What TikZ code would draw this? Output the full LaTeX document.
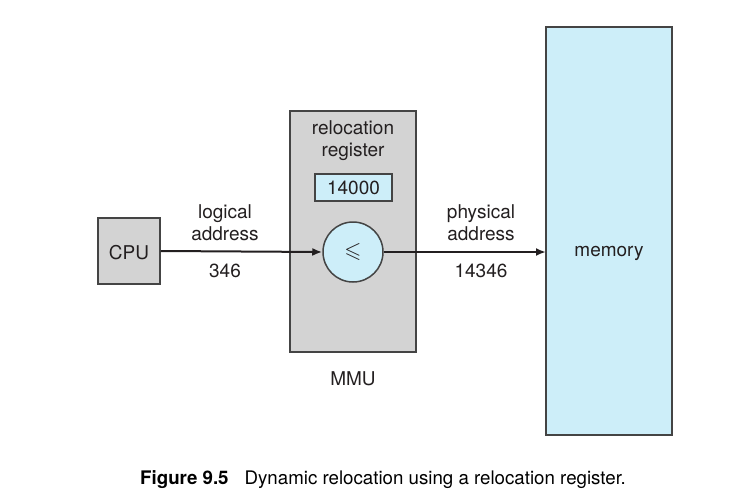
\documentclass[tikz,border=0pt]{standalone}
\usepackage{amssymb}
\usepackage{fontspec}
\setmainfont{TeX Gyre Heros}
\usetikzlibrary{arrows.meta}
\definecolor{boxgray}{HTML}{D3D3D3}
\definecolor{boxblue}{HTML}{CDEEF9}
\definecolor{edgegray}{HTML}{444444}
\definecolor{inkgray}{HTML}{231F20}
\tikzset{
  graybox/.style={draw=edgegray, line width=1.5pt, fill=boxgray},
  bluebox/.style={draw=edgegray, line width=1.5pt, fill=boxblue},
  lbl/.style={text=inkgray, font=\fontsize{19}{22}\selectfont, align=center, inner sep=0pt},
  wire/.style={line width=2pt, draw=inkgray, -{Latex[length=10pt,width=8pt]}}
}
\begin{document}
\begin{tikzpicture}[x=1pt,y=-1pt]
\useasboundingbox (0,0) rectangle (731,503);
% boxes
\node[graybox, minimum width=62pt, minimum height=66pt, inner sep=0pt] (cpu) at (129,251) {};
\node[lbl] at (129,253) {CPU};
\path[graybox] (290,111) rectangle (416,352);
\node[lbl] (relreg) at (353,141) {relocation\\register};
\node[bluebox, minimum width=77pt, minimum height=27pt, inner sep=0pt, lbl] (reg) at (353.5,187.5) {14000};
\node[bluebox, circle, minimum size=60pt, inner sep=0pt] (adder) at (353,252) {};
\node[text=inkgray, font=\fontsize{22}{24}\selectfont] at (adder.center) {$\leqslant$};
\node[lbl] (mmulbl) at (353,379) {MMU};
\path[bluebox] (546,27) rectangle (672,435);
\coordinate (memin) at (546,252);
\node[lbl] (mem) at (609,253) {memory};
% connectors
\draw[wire] (cpu.east) -- (adder.west);
\draw[wire] (adder.east) -- (memin);
% connector labels
\node[lbl] (la) at (225,223) {logical\\address};
\node[lbl] (lav) at (225,271) {346};
\node[lbl] (pa) at (481,223) {physical\\address};
\node[lbl] (pav) at (481,271) {14346};
% caption
\node[text=black, font=\fontsize{18.7}{22}\selectfont, anchor=west, inner sep=0pt] (cap) at (140,480) {\textbf{Figure 9.5}\hspace{16pt}Dynamic relocation using a relocation register.};
\end{tikzpicture}
\end{document}
